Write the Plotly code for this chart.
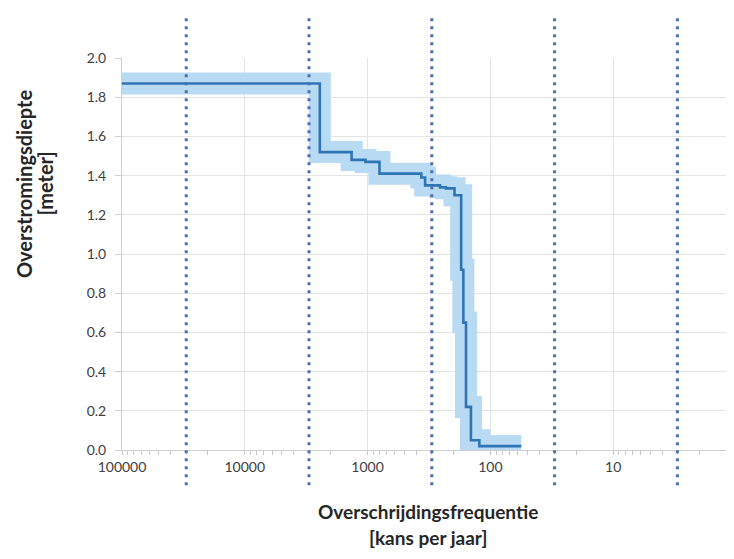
import plotly.graph_objects as go

# Step curve: exceedance frequency (1/year) vs flood depth (m)
freq = [100000, 2450, 1350, 1040, 800, 365, 340, 257, 230, 196, 173, 166, 158, 144, 123, 56]
depth = [1.87, 1.52, 1.48, 1.47, 1.41, 1.39, 1.35, 1.34, 1.335, 1.30, 0.92, 0.65, 0.22, 0.05, 0.02, 0.02]
# vertical reference lines (dotted)
ref_freq = [30000, 3000, 300, 30, 3]

x_ticks = [100000, 10000, 1000, 100, 10, 1]
x_ticklabels = ["100000", "10000", "1000", "100", "10", "1"]
y_ticks = [0.0, 0.2, 0.4, 0.6, 0.8, 1.0, 1.2, 1.4, 1.6, 1.8, 2.0]

x_title = ["Overschrijdingsfrequentie", "[kans per jaar]"]
y_title = ["Overstromingsdiepte", "[meter]"]

fig = go.Figure()
fig.add_trace(go.Scatter(x=freq, y=depth, mode="lines", line=dict(shape="hv", width=22, color="#B9DAF3"),
                         hoverinfo="skip", showlegend=False))
fig.add_trace(go.Scatter(x=freq, y=depth, mode="lines", line=dict(shape="hv", width=2.6, color="#2E75B6"),
                         showlegend=False))

for f in ref_freq:
    fig.add_shape(type="line", xref="x", yref="paper", x0=f, x1=f, y0=-0.09, y1=1.11,
                  line=dict(color="#4A6FB5", width=3, dash="3px,5px"), layer="above")

# axis titles as annotations (paper coordinates)
for txt, yp in zip(x_title, [-0.158, -0.224]):
    fig.add_annotation(text="<b>%s</b>" % txt, xref="paper", yref="paper", x=0.494, y=yp,
                       xanchor="center", yanchor="middle", showarrow=False,
                       font=dict(size=19, color="#262626"))
for txt, xp in zip(y_title, [-0.157, -0.124]):
    fig.add_annotation(text="<b>%s</b>" % txt, xref="paper", yref="paper", x=xp, y=0.68,
                       xanchor="center", yanchor="middle", showarrow=False, textangle=-90,
                       font=dict(size=20, color="#262626"))

font = "Lato, 'Liberation Sans', sans-serif"
fig.update_layout(
    width=734, height=559,
    margin=dict(l=114, r=0, t=50, b=117),
    paper_bgcolor="white", plot_bgcolor="white",
    font=dict(family=font, color="#595959", size=14),
    xaxis=dict(type="log", range=[5, -0.049], tickvals=x_ticks, ticktext=x_ticklabels,
               automargin=False,
               showgrid=True, gridcolor="#E4E4E4", gridwidth=1,
               showline=True, linecolor="#D0D0D0", zeroline=False,
               ticks="", tickfont=dict(size=14, color="#404040"), ticklabelstandoff=4,
               minor=dict(ticks="outside", ticklen=4, tickcolor="#C8C8C8", dtick="D1", showgrid=False)),
    yaxis=dict(range=[0, 2.0], tickvals=y_ticks, tickformat=".1f",
               automargin=False,
               showgrid=True, gridcolor="#E4E4E4", gridwidth=1,
               showline=True, linecolor="#D0D0D0", zeroline=False,
               ticks="outside", ticklen=6, tickcolor="#D0D0D0",
               tickfont=dict(size=14, color="#404040"), ticklabelstandoff=6),
)

fig.write_html("out.html")
